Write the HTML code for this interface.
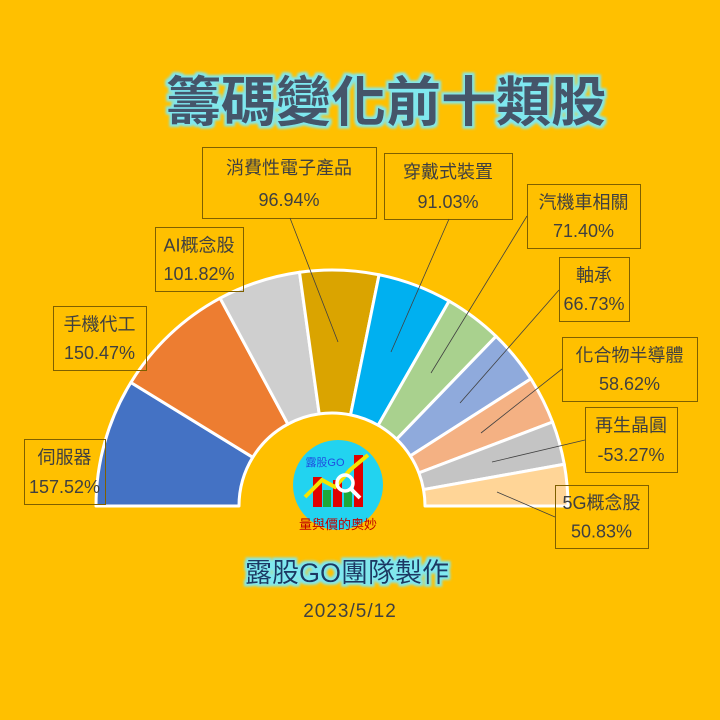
<!DOCTYPE html>
<html><head><meta charset="utf-8">
<style>
body{margin:0;background:#FFC000;}
svg{display:block}
text{font-family:"Liberation Sans","Noto Sans CJK TC",sans-serif;}
</style></head>
<body>
<svg id="s" width="720" height="720" viewBox="0 0 720 720" xmlns="http://www.w3.org/2000/svg">
<defs>
<filter id="glow" x="-10%" y="-30%" width="120%" height="160%">
<feMorphology in="SourceAlpha" operator="dilate" radius="2.5" result="d"/>
<feGaussianBlur in="d" stdDeviation="1.2" result="b"/>
<feFlood flood-color="#7FE8F0"/>
<feComposite in2="b" operator="in" result="g"/>
<feMerge><feMergeNode in="g"/><feMergeNode in="SourceGraphic"/></feMerge>
</filter>
</defs>
<rect width="720" height="720" fill="#FFC000"/>
<text x="386" y="121" text-anchor="middle" font-size="54" font-weight="bold" fill="#44546A" filter="url(#glow)" textLength="440" lengthAdjust="spacingAndGlyphs">籌碼變化前十類股</text>
<g id="slices"></g>
<circle cx="338" cy="485" r="45" fill="#22D3F0"/>
<text x="325" y="466" font-size="11" fill="#1F4FE0" text-anchor="middle">露股GO</text>
<rect x="313" y="477" width="9" height="30" fill="#E00000"/>
<rect x="323" y="490" width="8" height="17" fill="#1DA83A"/>
<rect x="333" y="480" width="9" height="27" fill="#E00000"/>
<rect x="344" y="490" width="8" height="17" fill="#1DA83A"/>
<rect x="354" y="455" width="9" height="52" fill="#E00000"/>
<polyline points="305,497 322,480 335,487 350,470 368,455" fill="none" stroke="#F5E400" stroke-width="4"/>
<circle cx="345" cy="483" r="8" fill="none" stroke="#fff" stroke-width="3.5"/>
<line x1="351" y1="489" x2="360" y2="498" stroke="#fff" stroke-width="4"/>
<text x="338" y="529" font-size="13" fill="#C00000" text-anchor="middle" font-family="Noto Serif CJK SC,serif">量與價的奧妙</text>
<text x="347" y="582" font-size="27" fill="#1F3864" text-anchor="middle" filter="url(#glow)">露股GO團隊製作</text>
<text x="350" y="617" font-size="19" fill="#404040" text-anchor="middle" letter-spacing="1">2023/5/12</text>
<g id="labels" stroke="#7F6000" stroke-width="1" fill="none"></g>
<g id="ltext" fill="#404040" font-size="18" text-anchor="middle"></g>
</svg>
<script>
var cx=332,cy=506,R=236,r=93;
var vals=[157.52,150.47,101.82,96.94,91.03,71.40,66.73,58.62,53.27,50.83];
var cols=["#4472C4","#ED7D31","#CFCFCF","#DAA400","#00B0F0","#A9D18E","#8FAADC","#F4B183","#C4C4C4","#FFD597"];
var tot=vals.reduce(function(a,b){return a+b},0);
var g=document.getElementById('slices'),a0=0,s='';
function p(rad,a){return [(cx-rad*Math.cos(a)).toFixed(2),(cy-rad*Math.sin(a)).toFixed(2)];}
for(var i=0;i<vals.length;i++){
 var a1=a0+vals[i]/tot*Math.PI;
 var A=p(R,a0),B=p(R,a1),C=p(r,a1),D=p(r,a0);
 s+='<path d="M'+A+' A'+R+' '+R+' 0 0 1 '+B+' L'+C+' A'+r+' '+r+' 0 0 0 '+D+'Z" fill="'+cols[i]+'" stroke="#fff" stroke-width="3" stroke-linejoin="round"/>';
 a0=a1;
}
g.innerHTML=s;
var L=[
 [202,147,376,218,"消費性電子產品","96.94%"],
 [155,227,243,291,"AI概念股","101.82%"],
 [53,306,146,370,"手機代工","150.47%"],
 [24,439,105,504,"伺服器","157.52%"],
 [384,153,512,219,"穿戴式裝置","91.03%"],
 [527,184,640,248,"汽機車相關","71.40%"],
 [559,257,629,321,"軸承","66.73%"],
 [562,337,697,401,"化合物半導體","58.62%"],
 [585,407,677,472,"再生晶圓","-53.27%"],
 [555,485,648,548,"5G概念股","50.83%"]];
var lines=[[290,218,338,342],[449,219,391,352],[527,216,431,373],[559,290,460,403],[562,369,481,433],[585,440,492,462],[555,517,497,492]];
var h='',t='';
L.forEach(function(b){
 h+='<rect x="'+b[0]+'.5" y="'+b[1]+'.5" width="'+(b[2]-b[0])+'" height="'+(b[3]-b[1])+'"/>';
 var mx=(b[0]+b[2])/2,hh=b[3]-b[1];
 t+='<text x="'+mx+'" y="'+(b[1]+hh*0.38)+'">'+b[4]+'</text><text x="'+mx+'" y="'+(b[1]+hh*0.83)+'">'+b[5]+'</text>';
});
lines.forEach(function(l){h+='<line x1="'+l[0]+'" y1="'+l[1]+'" x2="'+l[2]+'" y2="'+l[3]+'" stroke="#404040" stroke-width="0.8"/>';});
document.getElementById('labels').innerHTML=h;
document.getElementById('ltext').innerHTML=t;
</script>
</body></html>
